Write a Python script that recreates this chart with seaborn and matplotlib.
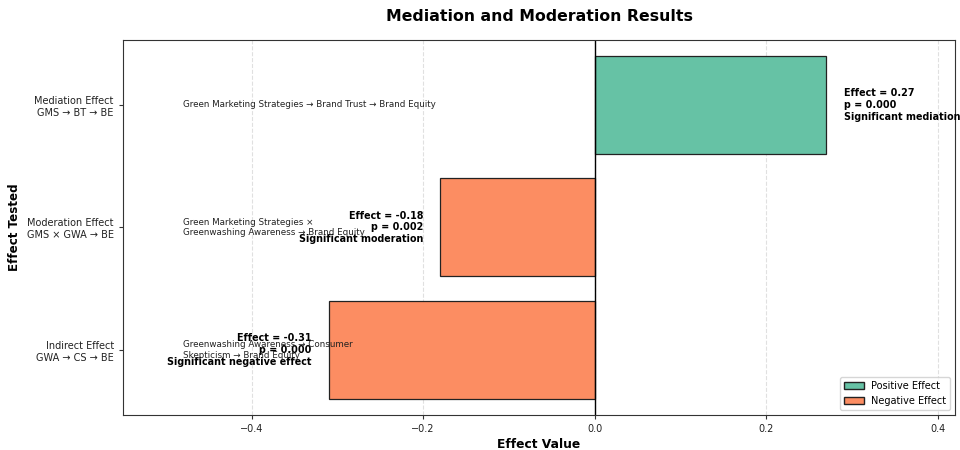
import pandas as pd
import matplotlib.pyplot as plt
import seaborn as sns
from matplotlib.patches import Patch

effects = [
    "Mediation Effect\nGMS → BT → BE",
    "Moderation Effect\nGMS × GWA → BE",
    "Indirect Effect\nGWA → CS → BE",
]
values = [0.27, -0.18, -0.31]
p_values = [0.000, 0.002, 0.000]
verdicts = ["Significant mediation", "Significant moderation", "Significant negative effect"]
descriptions = [
    "Green Marketing Strategies → Brand Trust → Brand Equity",
    "Green Marketing Strategies ×\nGreenwashing Awareness → Brand Equity",
    "Greenwashing Awareness → Consumer\nSkepticism → Brand Equity",
]

pos_color = "#66c2a5"
neg_color = "#fc8d62"

df = pd.DataFrame({"Effect": effects, "Value": values})
df["Sign"] = ["Positive" if v > 0 else "Negative" for v in values]

sns.set_style("whitegrid")
plt.rcParams["font.family"] = ["DejaVu Sans"]
plt.rcParams["text.color"] = "black"
plt.rcParams["axes.labelcolor"] = "black"

fig, ax = plt.subplots(figsize=(9.6, 4.5), dpi=100)
sns.barplot(
    data=df, y="Effect", x="Value", hue="Sign", orient="h",
    palette={"Positive": pos_color, "Negative": neg_color}, saturation=1,
    edgecolor="#222222", linewidth=0.9, width=0.8, dodge=False,
    legend=False, ax=ax,
)

ax.axvline(0, color="black", linewidth=1)
ax.set_xlim(min(values) - 0.24, max(values) + 0.15)
ax.set_ylim(2.53, -0.53)

for i, (v, p, s, d) in enumerate(zip(values, p_values, verdicts, descriptions)):
    label = f"Effect = {v:.2f}\np = {p:.3f}\n{s}"
    if v > 0:
        ax.text(v + 0.02, i, label, ha="left", va="center", fontsize=6.9, fontweight="bold")
    else:
        ax.text(v - 0.02, i, label, ha="right", va="center", fontsize=6.9, fontweight="bold")
    ax.text(-0.48, i, d, ha="left", va="center", fontsize=6.3, color="#222222")

ax.grid(axis="x", linestyle="--", alpha=0.6)
ax.grid(axis="y", visible=False)
for spine in ax.spines.values():
    spine.set_color("#333333")
    spine.set_linewidth(0.8)
ax.tick_params(axis="both", labelsize=7, colors="#333333", length=3, left=True, bottom=True)
for lbl in ax.get_xticklabels() + ax.get_yticklabels():
    lbl.set_color("#222222")

ax.set_title("Mediation and Moderation Results", fontsize=11.3, fontweight="bold", pad=14)
ax.set_xlabel("Effect Value", fontsize=8.8, fontweight="bold", labelpad=3)
ax.set_ylabel("Effect Tested", fontsize=8.6, fontweight="bold", labelpad=4)

handles = [
    Patch(facecolor=pos_color, edgecolor="#222222", label="Positive Effect"),
    Patch(facecolor=neg_color, edgecolor="#222222", label="Negative Effect"),
]
ax.legend(handles=handles, loc="lower right", fontsize=7, frameon=True)

plt.subplots_adjust(left=0.128, right=0.995, top=0.911, bottom=0.078)
plt.savefig("out.png", dpi=100)
plt.close()
